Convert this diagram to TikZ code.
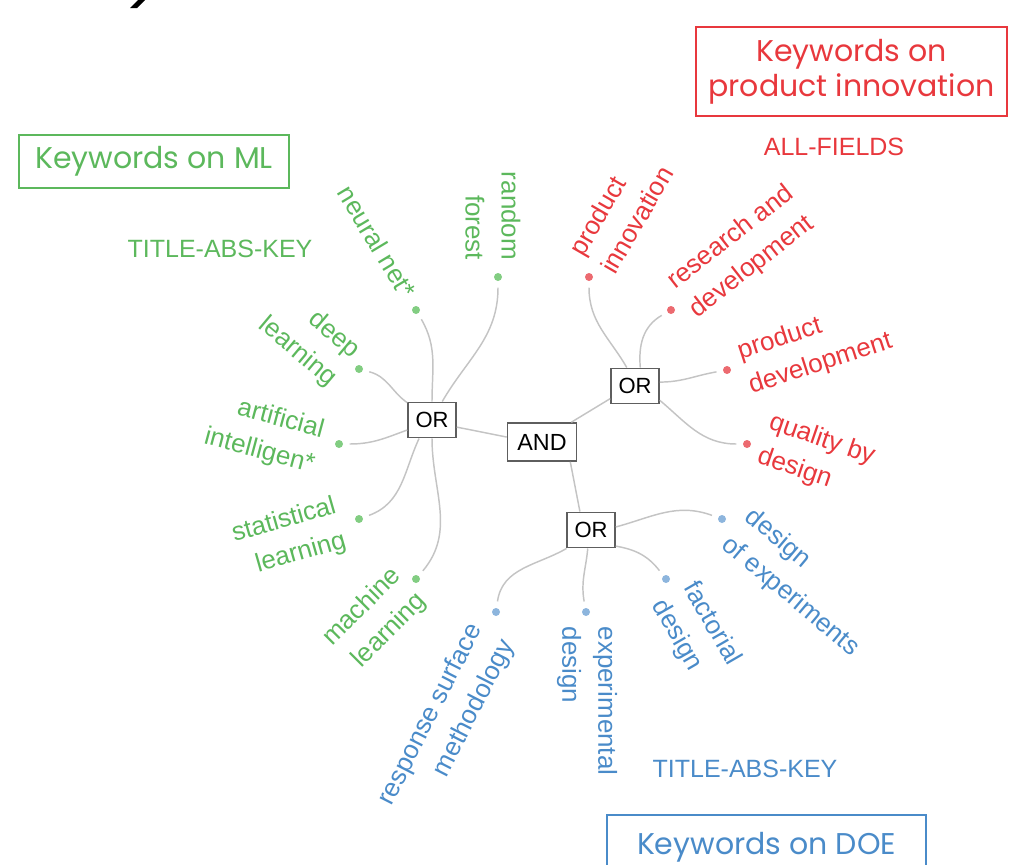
\documentclass[tikz,border=0pt]{standalone}
\usepackage{fontspec}
\setmainfont{Liberation Sans}
\newfontfamily\gothic{Poppins}
\definecolor{mlgreen}{HTML}{5CB85C}
\definecolor{mldot}{HTML}{82CD82}
\definecolor{pired}{HTML}{E8383D}
\definecolor{pidot}{HTML}{EC6A70}
\definecolor{doeblue}{HTML}{4A8BC9}
\definecolor{doedot}{HTML}{8DB5DD}
\definecolor{conncol}{HTML}{C4C4C4}
\definecolor{boxgray}{HTML}{5E5E5E}
\begin{document}
\begin{tikzpicture}[x=0.75pt,y=0.75pt,
  lbl/.style={font=\fontsize{19.5}{27}\selectfont, inner sep=0pt},
  mllbl/.style={lbl, text=mlgreen},
  pilbl/.style={lbl, text=pired},
  doelbl/.style={lbl, text=doeblue},
  kdot/.style={circle, inner sep=0pt, minimum size=6pt, outer sep=5pt},
  mldotst/.style={kdot, fill=mldot},
  pidotst/.style={kdot, fill=pidot},
  doedotst/.style={kdot, fill=doedot},
  conn/.style={draw=conncol, line width=1.1pt},
  opbox/.style={draw=boxgray, line width=1.2pt, fill=white, font=\fontsize{16.5}{18}\selectfont, inner sep=0pt, minimum height=26.5pt},
  titlebox/.style={line width=1.1pt, font=\gothic\fontsize{22.5}{26.25}\selectfont, align=center, inner sep=0pt},
  fieldlbl/.style={font=\fontsize{18.75}{22}\selectfont, inner sep=0pt}
]
\useasboundingbox (0,0) rectangle (1009,-864);
\clip (0,0) rectangle (1009,-864);

% cut-off glyph fragment at top
\fill[black] (130,-8) -- (137,-8) -- (145,0) -- (138,0) -- cycle;

% title boxes
\node[titlebox, draw=mlgreen, text=mlgreen, minimum width=202.5pt, minimum height=39.75pt] (tml) at (154,-161.5) {Keywords on ML};
\node[titlebox, draw=pired, text=pired, minimum width=233.25pt, minimum height=66.75pt] (tpi) at (851.5,-71.5) {Keywords on\\product innovation};
\node[titlebox, draw=doeblue, text=doeblue, minimum width=239.25pt, minimum height=48pt] (tdoe) at (766.5,-847) {Keywords on DOE};

\node[fieldlbl, text=mlgreen] (fml) at (220,-249) {TITLE-ABS-KEY};
\node[fieldlbl, text=pired] (fpi) at (834,-147) {ALL-FIELDS};
\node[fieldlbl, text=doeblue] (fdoe) at (745,-769) {TITLE-ABS-KEY};

% operator boxes
\node[opbox, minimum width=36pt] (or1) at (432,-420) {OR};
\node[opbox, minimum width=51.75pt, minimum height=28.5pt, font=\fontsize{17.5}{19}\selectfont] (and) at (542,-442) {AND};
\node[opbox, minimum width=36pt] (or2) at (635,-386) {OR};
\node[opbox, minimum width=36pt] (or3) at (591,-530) {OR};

% ML dots and labels
\node[mldotst] (d1) at (498,-277) {};
\node[mldotst] (d2) at (416,-310) {};
\node[mldotst] (d3) at (359,-369) {};
\node[mldotst] (d4) at (339,-444) {};
\node[mldotst] (d5) at (359,-519) {};
\node[mldotst] (d6) at (416,-579) {};
\node[mllbl, rotate=-90, align=right] (l1) at (493,-216) {random\\forest};
\node[mllbl, rotate=-59] (l2) at (377,-242) {neural net*};
\node[mllbl, rotate=-40, align=right] (l3) at (309,-338) {deep\\learning};
\node[mllbl, rotate=-15, align=right] (l4) at (264,-434) {artificial\\intelligen*};
\node[mllbl, rotate=16, align=right] (l5) at (289,-538) {statistical\\learning};
\node[mllbl, rotate=45, align=right] (l6) at (375,-620) {machine\\learning};

% product innovation dots and labels
\node[pidotst] (d7) at (589,-277) {};
\node[pidotst] (d8) at (671,-310) {};
\node[pidotst] (d9) at (727,-370) {};
\node[pidotst] (d10) at (747,-444) {};
\node[pilbl, rotate=60, align=left] (l7) at (621,-211) {product\\innovation};
\node[pilbl, rotate=38, align=left] (l8) at (742,-252) {research and\\development};
\node[pilbl, rotate=18, align=left] (l9) at (815,-347) {product\\development};
\node[pilbl, rotate=-19, align=left] (l10) at (816,-457) {quality by\\design};

% DOE dots and labels
\node[doedotst] (d11) at (722,-519) {};
\node[doedotst] (d12) at (666,-579) {};
\node[doedotst] (d13) at (586,-612) {};
\node[doedotst] (d14) at (496,-612) {};
\node[doelbl, rotate=-40, align=left] (l11) at (802,-583) {design\\of experiments};
\node[doelbl, rotate=-60, align=left] (l12) at (696,-633) {factorial\\design};
\node[doelbl, rotate=-90, align=left] (l13) at (587,-701) {experimental\\design};
\node[doelbl, rotate=63, align=right] (l14) at (447,-723) {response surface\\methodology};

% connectors
\draw[conn] (or1.-16) -- (and.172);
\draw[conn] (and.34) -- (or2.207);
\draw[conn] (and.-35) -- (or3.121);

\draw[conn] (or1.61) to[out=60,in=-90] (d1);
\draw[conn] (or1.90) to[out=90,in=-60] (d2);
\draw[conn] (or1.145) to[out=145,in=-15] (d3);
\draw[conn] (or1.202) to[out=200,in=0] (d4);
\draw[conn] (or1.235) to[out=-115,in=20] (d5);
\draw[conn] (or1.-90) to[out=-90,in=50] (d6);

\draw[conn] (or2.114) to[out=120,in=-90] (d7);
\draw[conn] (or2.74) to[out=95,in=-150] (d8);
\draw[conn] (or2.9) to[out=0,in=190] (d9);
\draw[conn] (or2.-30) to[out=-40,in=180] (d10);

\draw[conn] (or3.7) to[out=15,in=160] (d11);
\draw[conn] (or3.-33) to[out=-10,in=128] (d12);
\draw[conn] (or3.-100) to[out=-95,in=100] (d13);
\draw[conn] (or3.217) to[out=210,in=82] (d14);
\end{tikzpicture}
\end{document}
